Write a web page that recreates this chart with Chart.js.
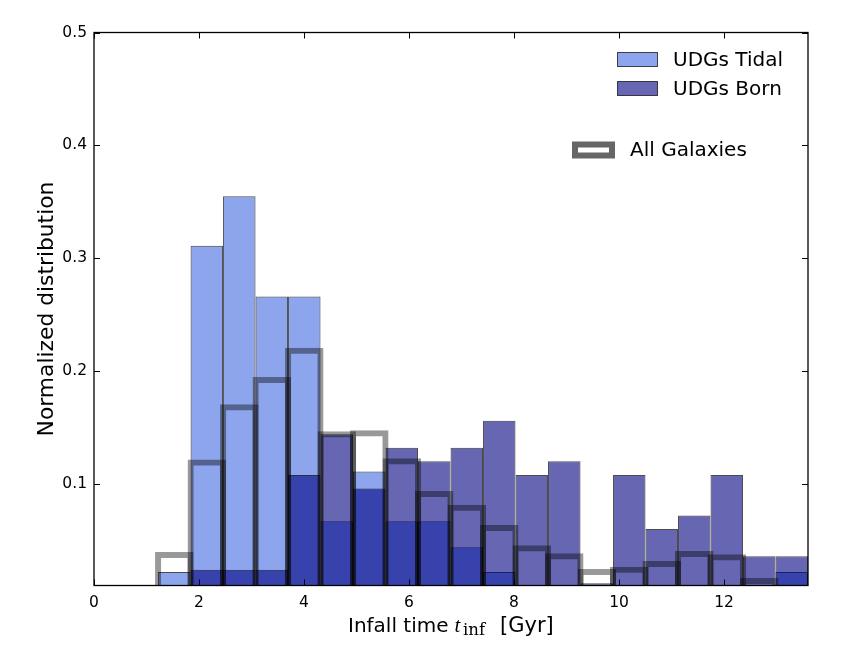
<!DOCTYPE html>
<html><head><meta charset="utf-8">
<script src="https://cdn.jsdelivr.net/npm/chart.js@4.4.1/dist/chart.umd.min.js"></script>
<style>html,body{margin:0;padding:0;background:#fff}canvas{display:block}</style>
</head><body>
<canvas id="c" width="850" height="650"></canvas>
<script>
const binEdges = [1.22, 1.839, 2.458, 3.077, 3.696, 4.315, 4.934, 5.553, 6.172, 6.791, 7.41, 8.029, 8.648, 9.267, 9.886, 10.505, 11.124, 11.743, 12.362, 12.981, 13.6];
const tidalValues = [0.022, 0.311, 0.355, 0.266, 0.266, 0.067, 0.111, 0.067, 0.067, 0.044, 0.022, 0, 0, 0, 0, 0, 0, 0, 0, 0.022];
const bornValues = [0, 0.024, 0.024, 0.024, 0.108, 0.144, 0.096, 0.132, 0.120, 0.132, 0.156, 0.108, 0.120, 0.012, 0.108, 0.060, 0.072, 0.108, 0.036, 0.036];
const allGalaxiesValues = [0.037, 0.119, 0.168, 0.192, 0.218, 0.144, 0.145, 0.120, 0.091, 0.079, 0.061, 0.043, 0.036, 0.022, 0.024, 0.029, 0.038, 0.035, 0.014, 0.005];
const xTicks = [0, 2, 4, 6, 8, 10, 12];
const yTicks = [0.1, 0.2, 0.3, 0.4, 0.5];
const seriesNames = ['UDGs Tidal', 'UDGs Born', 'All Galaxies'];
const yTitle = 'Normalized distribution';

const FONT = "'DejaVu Sans', sans-serif";
const tidalFill = 'rgba(65,105,225,0.6)';
const bornFill = 'rgba(0,0,128,0.6)';
const edgeCol = 'rgba(0,0,0,0.7)';
const stepCol = 'rgba(0,0,0,0.4)';

const centers = binEdges.slice(0, -1).map((e, i) => (e + binEdges[i + 1]) / 2);
const barData = vals => vals.map((v, i) => ({x: centers[i], y: v > 0 ? v : null}));

const decorPlugin = {
  id: 'decor',
  afterDraw(chart) {
    const ctx = chart.ctx, a = chart.chartArea;
    const xs = chart.scales.x, ys = chart.scales.y;
    ctx.save();
    ctx.strokeStyle = '#000';
    ctx.lineWidth = 1.3;
    ctx.strokeRect(a.left, a.top, a.right - a.left, a.bottom - a.top);
    ctx.lineWidth = 1;
    const tl = 6;
    ctx.beginPath();
    xTicks.forEach(v => {
      const px = Math.round(xs.getPixelForValue(v)) + 0.5;
      ctx.moveTo(px, a.bottom); ctx.lineTo(px, a.bottom - tl);
      ctx.moveTo(px, a.top); ctx.lineTo(px, a.top + tl);
    });
    yTicks.forEach(v => {
      const py = Math.round(ys.getPixelForValue(v)) + 0.5;
      ctx.moveTo(a.left, py); ctx.lineTo(a.left + tl, py);
      ctx.moveTo(a.right, py); ctx.lineTo(a.right - tl, py);
    });
    ctx.stroke();

    // y title
    ctx.fillStyle = '#000';
    ctx.font = '21.8px ' + FONT;
    ctx.textAlign = 'center';
    ctx.textBaseline = 'alphabetic';
    ctx.save();
    ctx.translate(53, (a.top + a.bottom) / 2);
    ctx.rotate(-Math.PI / 2);
    ctx.fillText(yTitle, 0, 0);
    ctx.restore();

    // x title: "Infall time t_inf [Gyr]"
    ctx.textAlign = 'left';
    const base = 631.5;
    ctx.font = '20px ' + FONT;
    ctx.fillText('Infall time', 348, base);
    ctx.font = "italic 21px 'Liberation Serif', serif";
    ctx.fillText('t', 454.5, base);
    ctx.font = "16.5px 'DejaVu Serif', serif";
    ctx.fillText('inf', 463, base + 3.5);
    ctx.font = '21px ' + FONT;
    ctx.fillText('[Gyr]', 500, base);

    // legend 1
    ctx.font = '20px ' + FONT;
    ctx.textBaseline = 'middle';
    const leg = [[tidalFill, 59.5, seriesNames[0]], [bornFill, 88.5, seriesNames[1]]];
    leg.forEach(([col, cy, name]) => {
      ctx.fillStyle = col;
      ctx.fillRect(617.5, cy - 7, 40, 14);
      ctx.strokeStyle = edgeCol;
      ctx.lineWidth = 1;
      ctx.strokeRect(617.5, cy - 7, 40, 14);
      ctx.fillStyle = '#000';
      ctx.fillText(name, 673, cy + 1);
    });
    // legend 2
    ctx.fillStyle = '#fff';
    ctx.fillRect(575, 144.5, 37, 11);
    ctx.strokeStyle = 'rgb(102,102,102)';
    ctx.lineWidth = 6;
    ctx.strokeRect(575, 144.5, 37, 11);
    ctx.fillStyle = '#000';
    ctx.fillText(seriesNames[2], 630, 151);
    ctx.restore();
  }
};

new Chart(document.getElementById('c'), {
  type: 'bar',
  data: {
    datasets: [
      {label: seriesNames[0], data: barData(tidalValues), backgroundColor: tidalFill, borderColor: edgeCol,
       borderWidth: 1, borderSkipped: false, grouped: false, barPercentage: 1, categoryPercentage: 1,
       inflateAmount: 0, order: 3},
      {label: seriesNames[1], data: barData(bornValues), backgroundColor: bornFill, borderColor: edgeCol,
       borderWidth: 1, borderSkipped: false, grouped: false, barPercentage: 1, categoryPercentage: 1,
       inflateAmount: 0, order: 2},
      {label: seriesNames[2], data: barData(allGalaxiesValues), backgroundColor: 'rgba(0,0,0,0)',
       borderColor: stepCol, borderWidth: 0.01, inflateAmount: 3, borderSkipped: 'bottom',
       grouped: false, barPercentage: 1, categoryPercentage: 1, clip: 0, order: 1}
    ]
  },
  options: {
    responsive: false,
    animation: false,
    devicePixelRatio: 1,
    layout: {padding: {top: 32.5, right: 42, left: 0, bottom: 0}},
    plugins: {legend: {display: false}, tooltip: {enabled: false}, title: {display: false}},
    scales: {
      x: {
        type: 'linear', min: 0, max: 13.6, offset: false,
        grid: {display: false, drawTicks: false, offset: false},
        border: {display: false},
        afterBuildTicks: s => { s.ticks = xTicks.map(v => ({value: v})); },
        afterFit: s => { s.height = 64.5; },
        ticks: {color: '#000', font: {family: FONT, size: 15.5}, padding: 8, maxRotation: 0,
                callback: v => String(v)}
      },
      y: {
        min: 0.01, max: 0.5,
        grid: {display: false, drawTicks: false},
        border: {display: false},
        afterBuildTicks: s => { s.ticks = yTicks.map(v => ({value: v})); },
        afterFit: s => { s.width = 94; },
        ticks: {color: '#000', font: {family: FONT, size: 15.5}, padding: 7,
                callback: v => v.toFixed(1)}
      }
    }
  },
  plugins: [decorPlugin]
});
</script>
</body></html>
